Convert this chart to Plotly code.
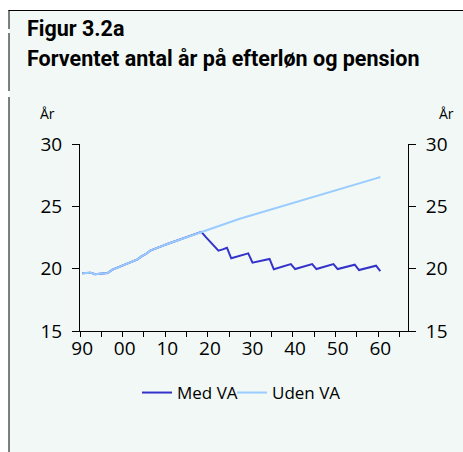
import plotly.graph_objects as go

years = list(range(1990, 2061))

uden_va = [
    19.63, 19.68, 19.68, 19.55, 19.58, 19.60, 19.65, 19.90, 20.05, 20.20,
    20.35, 20.50, 20.65, 20.75, 21.00, 21.18, 21.45, 21.60, 21.72, 21.85,
    21.98, 22.10, 22.22, 22.35, 22.48, 22.60, 22.72, 22.85, 22.95, 23.05,
    23.17, 23.30, 23.45, 23.57, 23.68, 23.79, 23.90, 24.00, 24.10, 24.20,
    24.32, 24.42, 24.52, 24.62, 24.72, 24.82, 24.92, 25.02, 25.12, 25.22,
    25.32, 25.42, 25.52, 25.62, 25.73, 25.83, 25.93, 26.03, 26.13, 26.23,
    26.33, 26.43, 26.53, 26.63, 26.74, 26.84, 26.94, 27.04, 27.14, 27.24,
    27.35,
]

med_va_after_2017 = [
    22.95, 22.55, 22.20, 21.80, 21.45, 21.55, 21.68,
    20.83, 20.92, 21.02, 21.12, 21.23,
    20.48, 20.55, 20.62, 20.70, 20.78,
    19.95, 20.05, 20.15, 20.25, 20.37,
    19.97, 20.07, 20.17, 20.27, 20.37,
    19.97, 20.07, 20.17, 20.27, 20.37,
    19.97, 20.06, 20.14, 20.23, 20.32,
    19.89, 19.98, 20.07, 20.15, 20.24,
    19.81,
]
# Med VA follows Uden VA up to 2017
med_va = uden_va[:28] + med_va_after_2017

x_tick_vals = [1990, 2000, 2010, 2020, 2030, 2040, 2050, 2060]
x_tick_text = ["90", "00", "10", "20", "30", "40", "50", "60"]
x_minor_ticks = [1989.5 + 5 * k for k in range(16)]
y_ticks = [15, 20, 25, 30]

title1 = "Figur 3.2a"
title2 = "Forventet antal år på efterløn og pension"
unit = "År"

MINT = "#f1f8f5"
DARK = "#3333cc"
LIGHT = "#99ccff"
FONT = "Open Sans, Noto Sans, sans-serif"
TFONT = "Roboto, sans-serif"

fig = go.Figure()
fig.add_trace(go.Scatter(x=years, y=med_va, mode="lines", name="Med VA",
                         line=dict(color=DARK, width=2), legend="legend"))
fig.add_trace(go.Scatter(x=years, y=uden_va, mode="lines", name="Uden VA",
                         line=dict(color=LIGHT, width=2), legend="legend2"))
fig.add_trace(go.Scatter(x=[None], y=[None], yaxis="y2", showlegend=False,
                         hoverinfo="skip"))

W, H = 463, 452
L, R, T, B = 80, 55, 144, 121
pw, ph = W - L - R, H - T - B


def px(x):
    return (x - L) / pw


def py(y):
    return (H - B - y) / ph


shapes = [
    dict(type="rect", xref="paper", yref="paper", x0=px(-5), x1=px(9), y0=py(470), y1=py(-5),
         fillcolor="white", line=dict(width=0), layer="below"),
    dict(type="rect", xref="paper", yref="paper", x0=px(-5), x1=px(470), y0=py(10), y1=py(-5),
         fillcolor="white", line=dict(width=0), layer="below"),
    dict(type="line", xref="paper", yref="paper", x0=px(8.5), x1=px(470), y0=py(10.5), y1=py(10.5),
         line=dict(color="black", width=1)),
    dict(type="line", xref="paper", yref="paper", x0=px(9), x1=px(9), y0=py(10), y1=py(29),
         line=dict(color="black", width=1)),
    dict(type="line", xref="paper", yref="paper", x0=px(9), x1=px(9), y0=py(33), y1=py(91),
         line=dict(color="black", width=1)),
    dict(type="line", xref="paper", yref="paper", x0=px(9), x1=px(9), y0=py(97), y1=py(460),
         line=dict(color="black", width=1)),
]

annotations = [
    dict(text=title1, xref="paper", yref="paper", x=px(25), y=py(28), xanchor="left",
         yanchor="middle", showarrow=False, font=dict(family=TFONT, size=21.5, color="black", weight="bold")),
    dict(text=title2, xref="paper", yref="paper", x=px(25), y=py(59), xanchor="left",
         yanchor="middle", showarrow=False, font=dict(family=TFONT, size=21.5, color="black", weight="bold")),
    dict(text=unit, xref="paper", yref="paper", x=px(47.5), y=py(113), xanchor="center",
         yanchor="middle", showarrow=False, font=dict(family=FONT, size=14, color="black")),
    dict(text=unit, xref="paper", yref="paper", x=px(446.5), y=py(113), xanchor="center",
         yanchor="middle", showarrow=False, font=dict(family=FONT, size=14, color="black")),
]

leg_common = dict(orientation="h", yanchor="middle", xanchor="left", y=py(393),
                  font=dict(size=17), bgcolor="rgba(0,0,0,0)", itemwidth=30)

fig.update_layout(
    width=W, height=H,
    margin=dict(l=L, r=R, t=T, b=B, pad=0),
    paper_bgcolor=MINT, plot_bgcolor=MINT,
    font=dict(family=FONT, color="black"),
    showlegend=True,
    legend=dict(x=px(137), **leg_common),
    legend2=dict(x=px(232), **leg_common),
    xaxis=dict(range=[1989.5, 2066.5], showline=True, linecolor="black", linewidth=1,
               tickmode="array", tickvals=x_tick_vals, ticktext=x_tick_text, ticks="",
               tickfont=dict(size=19), showgrid=False, zeroline=False,
               minor=dict(tickmode="array", tickvals=x_minor_ticks, ticks="outside", ticklen=5,
                          tickcolor="black", tickwidth=1, showgrid=False)),
    yaxis=dict(range=[15, 30], showline=True, linecolor="black", linewidth=1,
               tickmode="array", tickvals=y_ticks, ticks="outside", ticklen=7, tickcolor="black",
               tickfont=dict(size=19), showgrid=False, zeroline=False, ticklabelstandoff=6),
    yaxis2=dict(range=[15, 30], overlaying="y", side="right", showline=True, linecolor="black",
                linewidth=1, tickmode="array", tickvals=y_ticks, ticks="outside", ticklen=7,
                tickcolor="black", tickfont=dict(size=19), showgrid=False, zeroline=False,
                ticklabelstandoff=6),
    shapes=shapes,
    annotations=annotations,
)

fig.write_html("out.html", config={"displayModeBar": False},
               post_script="document.body.style.margin='0';")
